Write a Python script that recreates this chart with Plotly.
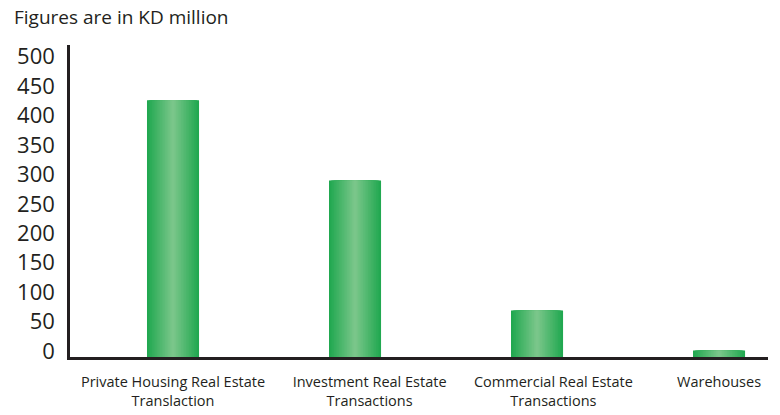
import plotly.graph_objects as go

# Real estate transactions by type (KD million)
categories = [
    "Private Housing Real Estate<br>Translaction",
    "Investment Real Estate<br>Transactions",
    "Commercial Real Estate<br>Transactions",
    "Warehouses",
]
values = [436, 300, 79, 11]
tick_values = [0, 50, 100, 150, 200, 250, 300, 350, 400, 450, 500]

positions = list(range(len(categories)))
label_positions = [0, 1.08, 2.09, 3]

dark = (33, 168, 80)
light = (128, 200, 142)
bar_width = 0.286
layers = 16

fig = go.Figure()
# Layered bars of shrinking width give each column a soft horizontal gradient
for k in range(layers):
    f = k / layers
    r, g, b = (round(d + (l - d) * f) for d, l in zip(dark, light))
    fig.add_trace(go.Bar(
        x=positions,
        y=values,
        width=bar_width * (1 - f),
        marker=dict(color=f"rgb({r},{g},{b})", line=dict(width=0)),
        hoverinfo="skip",
        showlegend=False,
    ))

fig.update_layout(
    barmode="overlay",
    width=780,
    height=415,
    margin=dict(l=70, r=12, t=45, b=58),
    paper_bgcolor="white",
    plot_bgcolor="white",
    font=dict(family="Open Sans", color="#231f20"),
    annotations=[dict(
        text="Figures are in KD million",
        xref="paper", yref="paper",
        x=-58 / 698, y=1 + 28 / 312,
        xanchor="left", yanchor="middle",
        showarrow=False,
        font=dict(size=19, color="#231f20", family="Open Sans"),
    )],
)

fig.update_xaxes(
    range=[-0.566, 3.269],
    tickvals=label_positions,
    ticktext=categories,
    tickfont=dict(size=14.5, color="#231f20"),
    showline=True, linecolor="#231f20", linewidth=2.5,
    showgrid=False, zeroline=False, automargin=False,
    ticks="", ticklabelstandoff=10,
)
fig.update_yaxes(
    range=[0, 530],
    tickvals=tick_values,
    tickfont=dict(size=22, color="#231f20"),
    showline=True, linecolor="#231f20", linewidth=2.5,
    showgrid=False, zeroline=False, automargin=False,
    ticks="", ticklabelstandoff=8, ticklabelshift=-6,
)

fig.write_html("out.html")
